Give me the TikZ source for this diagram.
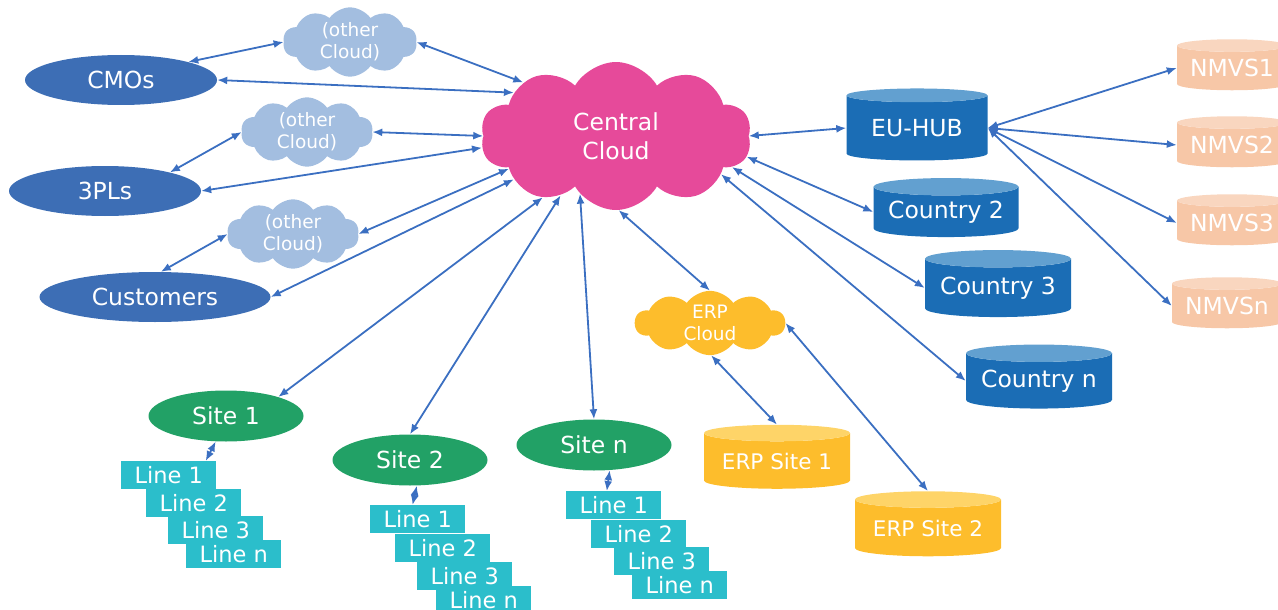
\documentclass[tikz,border=0pt]{standalone}
\usepackage{fontspec}
\setmainfont{DejaVu Sans}
\usetikzlibrary{arrows.meta, positioning, shapes.geometric, shapes.symbols}

\definecolor{cparty}{HTML}{3D6EB5}
\definecolor{cother}{HTML}{A3BEE0}
\definecolor{cpink}{HTML}{E64A9A}
\definecolor{chub}{HTML}{1B6DB5}
\definecolor{chubtop}{HTML}{62A0D0}
\definecolor{cgreen}{HTML}{22A166}
\definecolor{cteal}{HTML}{2BBECB}
\definecolor{cerp}{HTML}{FDBD2C}
\definecolor{cerptop}{HTML}{FED468}
\definecolor{cnmvs}{HTML}{F7C7A7}
\definecolor{cnmvstop}{HTML}{F9D6BF}
\definecolor{clink}{HTML}{3B6FC1}

\begin{document}
\begin{tikzpicture}[
  x=1pt, y=-1pt,
  big/.style={font=\fontsize{23.5}{29}\selectfont},
  party/.style={ellipse, fill=cparty, text=white, inner sep=0pt, big,
    minimum width=192pt, minimum height=50pt},
  site/.style={ellipse, fill=cgreen, text=white, inner sep=0pt, big,
    minimum width=155pt, minimum height=51pt},
  linebox/.style={rectangle, fill=cteal, text=white, inner sep=0pt,
    minimum width=95pt, minimum height=28pt, anchor=north west,
    font=\fontsize{22.5}{27}\selectfont},
  sky/.style={cloud, cloud puffs=10, cloud puff arc=110, aspect=2,
    text=white, align=center, inner sep=0pt,
    font=\fontsize{18.5}{22}\selectfont},
  db/.style={cylinder, shape border rotate=90, aspect=0.15,
    cylinder uses custom fill, text=white, inner sep=0pt, big},
  link/.style={{Latex[length=10pt,width=8pt]}-{Latex[length=10pt,width=8pt]},
    line width=1.8pt, draw=clink}
]
\useasboundingbox (0,0) rectangle (1278,610);
\clip (0,0) rectangle (1278,610);

% partners and their own clouds
\node[party] (cmo) at (121,80) {CMOs};
\node[party] (tpl) at (105,191) {3PLs};
\node[party, minimum width=231pt] (cust) at (155,297) {Customers};
\node[sky, fill=cother, minimum width=134pt, minimum height=60pt] (oc1) at (350,42) {(other\\Cloud)};
\node[sky, fill=cother, minimum width=132pt, minimum height=62pt] (oc2) at (307,132) {(other\\Cloud)};
\node[sky, fill=cother, minimum width=132pt, minimum height=62pt] (oc3) at (293,234) {(other\\Cloud)};

% the hub cloud
\node[sky, fill=cpink, big, cloud puffs=10, cloud puff arc=120,
  minimum width=271pt, minimum height=148pt] (central) at (616,136) {Central\\Cloud};

% national systems
\node[db, cylinder body fill=chub, cylinder end fill=chubtop,
  minimum width=141pt, minimum height=72pt] (euhub) at (917,128) {EU-HUB};
\node[db, cylinder body fill=chub, cylinder end fill=chubtop,
  minimum width=145pt, minimum height=59pt] (c2) at (946,212) {Country 2};
\node[db, cylinder body fill=chub, cylinder end fill=chubtop,
  minimum width=146pt, minimum height=67pt] (c3) at (998,288) {Country 3};
\node[db, cylinder body fill=chub, cylinder end fill=chubtop,
  minimum width=146pt, minimum height=64pt] (cn) at (1039,381) {Country n};

\node[db, cylinder body fill=cnmvs, cylinder end fill=cnmvstop,
  minimum width=110pt, minimum height=51pt] (nmvs1) at (1232,68) {NMVS1};
\node[db, cylinder body fill=cnmvs, cylinder end fill=cnmvstop,
  minimum width=110pt, minimum height=51pt] (nmvs2) at (1232,145) {NMVS2};
\node[db, cylinder body fill=cnmvs, cylinder end fill=cnmvstop,
  minimum width=110pt, minimum height=51pt] (nmvs3) at (1232,223) {NMVS3};
\node[db, cylinder body fill=cnmvs, cylinder end fill=cnmvstop,
  minimum width=110pt, minimum height=51pt] (nmvsn) at (1227,306) {NMVSn};

% ERP
\node[sky, fill=cerp, minimum width=150pt, minimum height=61pt] (erp) at (710,323) {ERP\\Cloud};
\node[db, cylinder body fill=cerp, cylinder end fill=cerptop,
  minimum width=146pt, minimum height=64pt, font=\fontsize{21.5}{26}\selectfont] (erp1) at (777,461) {ERP Site 1};
\node[db, cylinder body fill=cerp, cylinder end fill=cerptop,
  minimum width=146pt, minimum height=65pt, font=\fontsize{21.5}{26}\selectfont] (erp2) at (928,528) {ERP Site 2};

% sites with their lines
\node[site] (site1) at (226,416) {Site 1};
\node[site] (site2) at (410,460) {Site 2};
\node[site] (siten) at (594,445) {Site n};

\node[linebox] (s1a) at (121,461) {Line 1};
\node[linebox] (s1b) at ([shift={(25,28)}]s1a.north west) {Line 2};
\node[linebox] (s1c) at ([shift={(22,27)}]s1b.north west) {Line 3};
\node[linebox] (s1d) at ([shift={(18,24)}]s1c.north west) {Line n};

\node[linebox] (s2a) at (370,505) {Line 1};
\node[linebox] (s2b) at ([shift={(25,29)}]s2a.north west) {Line 2};
\node[linebox] (s2c) at ([shift={(22,28)}]s2b.north west) {Line 3};
\node[linebox] (s2d) at ([shift={(19,24)}]s2c.north west) {Line n};

\node[linebox] (sna) at (566,491) {Line 1};
\node[linebox] (snb) at ([shift={(25,29)}]sna.north west) {Line 2};
\node[linebox] (snc) at ([shift={(23,27)}]snb.north west) {Line 3};
\node[linebox] (snd) at ([shift={(18,24)}]snc.north west) {Line n};

% connections
\draw[link] (cmo.15) -- (oc1.west);
\draw[link] (oc1.east) -- (central.150);
\draw[link] (cmo.east) -- (central.157);
\draw[link] (tpl.16) -- (oc2.west);
\draw[link] (oc2.east) -- (central.180);
\draw[link] (tpl.east) -- (central.185);
\draw[link] (cust.77) -- (oc3.west);
\draw[link] (oc3.east) -- (central.197);
\draw[link] (cust.east) -- (central.203);

\draw[link] (site1.20) -- (central.220);
\draw[link] (site2.north) -- (central.227);
\draw[link] (siten.north) -- (central.238);
\draw[link] (erp.north) -- (central.272);

\draw[link] (central.0) -- (euhub.west);
\draw[link] (central.351) -- (c2.west);
\draw[link] (central.345) -- (c3.west);
\draw[link] (central.340) -- (cn.west);

\draw[link] (euhub.east) -- (nmvs1.west);
\draw[link] (euhub.east) -- (nmvs2.west);
\draw[link] (euhub.east) -- (nmvs3.west);
\draw[link] (euhub.east) -- (nmvsn.west);

\draw[link] (site1.248) -- (s1a.21);
\draw[link] (site2.285) -- (s2a.110);
\draw[link] (siten.302) -- (sna.116);

\draw[link] (erp.272) -- (erp1.north);
\draw[link] (erp.east) -- (erp2.north);
\end{tikzpicture}
\end{document}
